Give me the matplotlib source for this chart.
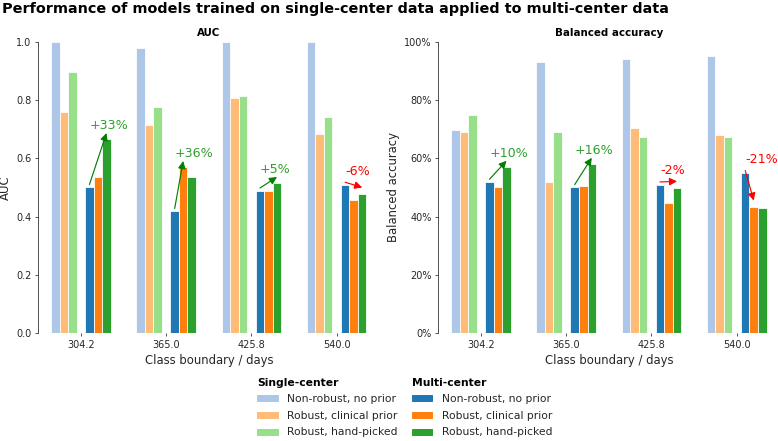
import matplotlib
matplotlib.use("Agg")
import matplotlib.pyplot as plt
import numpy as np
from matplotlib.patches import Patch
from matplotlib.ticker import PercentFormatter

boundaries = ["304.2", "365.0", "425.8", "540.0"]
series_names = ["Non-robust, no prior", "Robust, clinical prior", "Robust, hand-picked"]

# AUC
auc_single_nonrobust = [1.00, 0.98, 1.00, 1.00]
auc_single_clinical = [0.76, 0.713, 0.807, 0.685]
auc_single_hand = [0.896, 0.778, 0.815, 0.741]
auc_multi_nonrobust = [0.50, 0.418, 0.488, 0.508]
auc_multi_clinical = [0.536, 0.569, 0.488, 0.457]
auc_multi_hand = [0.665, 0.537, 0.514, 0.478]

# balanced accuracy
ba_single_nonrobust = [0.698, 0.93, 0.94, 0.95]
ba_single_clinical = [0.69, 0.52, 0.705, 0.68]
ba_single_hand = [0.75, 0.69, 0.673, 0.673]
ba_multi_nonrobust = [0.518, 0.50, 0.509, 0.548]
ba_multi_clinical = [0.50, 0.506, 0.447, 0.433]
ba_multi_hand = [0.57, 0.58, 0.499, 0.43]

single_colors = ["#aec7e8", "#ffbb78", "#98df8a"]
multi_colors = ["#1f77b4", "#ff7f0e", "#2ca02c"]

DARK = "#262626"


def draw_panel(ax, single, multi, title, ylabel):
    x = np.arange(len(boundaries))
    w = 0.1
    for i, vals in enumerate(single):
        ax.bar(x + (i - 3) * w, vals, w, color=single_colors[i],
               edgecolor="white", linewidth=0.8)
    for i, vals in enumerate(multi):
        ax.bar(x + (i + 1) * w, vals, w, color=multi_colors[i],
               edgecolor="white", linewidth=0.8)

    # change from non-robust to the best robust multi-center model
    base = np.array(multi[0])
    rob = np.vstack([multi[1], multi[2]])
    best = rob.argmax(axis=0)
    for k in range(len(boundaries)):
        b = base[k]
        t = rob[best[k], k]
        change = round(100 * (t / b - 1))
        if change >= 0:
            col, tcol, txt = "green", "#2ca02c", f"+{change}%"
        else:
            col, tcol, txt = "red", "red", f"{change}%"
        ax.annotate("", xy=(x[k] + (best[k] + 2) * w, t + 0.022),
                    xytext=(x[k] + w, b + 0.01),
                    arrowprops=dict(arrowstyle="-|>", color=col, lw=1.2,
                                    mutation_scale=16, shrinkA=0, shrinkB=0))
        ax.text(x[k] + w, max(b, t) + 0.048, txt, color=tcol, fontsize=13,
                ha="left", va="center")

    ax.set_xticks(x)
    ax.set_xticklabels(boundaries)
    ax.set_xlim(-0.5, len(boundaries) - 0.5)
    ax.set_ylim(0, 1)
    ax.set_title(title, fontsize=10.5, fontweight="bold", color="black")
    ax.set_xlabel("Class boundary / days", fontsize=12, color=DARK)
    ax.set_ylabel(ylabel, fontsize=12, color=DARK)
    for s in ["top", "right", "bottom"]:
        ax.spines[s].set_visible(False)
    ax.spines["left"].set_color(DARK)
    ax.tick_params(colors=DARK, labelsize=10)


fig = plt.figure(figsize=(778 / 70, 441 / 70), dpi=70)
ax1 = fig.add_axes([0.0492, 0.2449, 0.4383, 0.66])
ax2 = fig.add_axes([0.5634, 0.2449, 0.4383, 0.66])

draw_panel(ax1,
           [auc_single_nonrobust, auc_single_clinical, auc_single_hand],
           [auc_multi_nonrobust, auc_multi_clinical, auc_multi_hand],
           "AUC", "AUC")
draw_panel(ax2,
           [ba_single_nonrobust, ba_single_clinical, ba_single_hand],
           [ba_multi_nonrobust, ba_multi_clinical, ba_multi_hand],
           "Balanced accuracy", "Balanced accuracy")
ax2.yaxis.set_major_formatter(PercentFormatter(1.0, decimals=0))

fig.text(0.003, 0.995, "Performance of models trained on single-center data "
         "applied to multi-center data", fontsize=14.8, fontweight="bold",
         ha="left", va="top")

legend_kw = dict(loc="upper left", frameon=False, fontsize=11,
                 alignment="left", labelcolor=DARK,
                 title_fontproperties={"weight": "bold", "size": 11},
                 handletextpad=0.9, handlelength=1.9, handleheight=0.5,
                 labelspacing=0.62)
h1 = [Patch(color=c) for c in single_colors]
h2 = [Patch(color=c) for c in multi_colors]
fig.legend(h1, series_names, title="Single-center",
           bbox_to_anchor=(0.3184, 0.1656), **legend_kw)
fig.legend(h2, series_names, title="Multi-center",
           bbox_to_anchor=(0.5168, 0.1656), **legend_kw)

fig.savefig("out.png", dpi=70)
